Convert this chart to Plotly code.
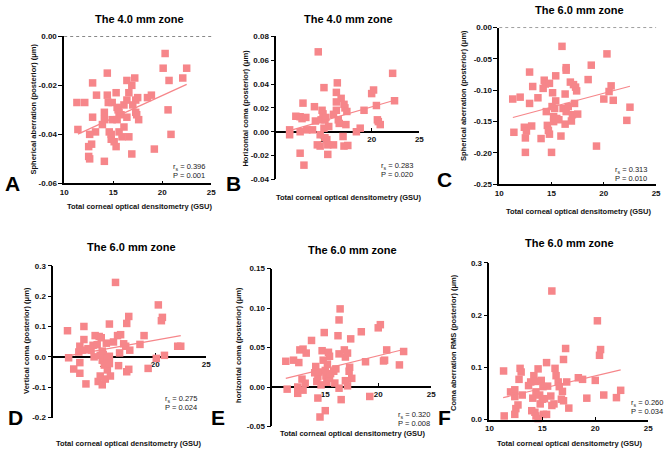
import plotly.graph_objects as go

W, H = 669, 454
COLOR = "#F6868A"
FONT = "Liberation Sans, Arial, sans-serif"

# ---------------- data ----------------
# A: 4.0 mm zone, spherical aberration (posterior)
a_x = [11.3, 12.1, 11.4, 12.9, 12.9, 13.3, 13.2, 12.6, 12.8, 12.5,
       12.5, 12.6, 14.4, 14.4, 14.5, 14.1, 13.9, 14.1, 14.1, 14.6,
       14.8, 14.9, 14.9, 14.8, 15.1, 15.3, 15.3, 15.4, 15.4, 15.5,
       15.6, 15.8, 15.6, 16.1, 16.1, 15.9, 16.4, 16.4, 16.4, 16.6,
       16.6, 16.9, 17.0, 16.9, 17.2, 17.3, 17.3, 17.4, 17.5, 17.6,
       18.5, 18.9, 19.2, 20.1, 20.3, 20.6, 20.7, 20.9, 22.1, 22.5]
a_y = [-0.027, -0.027, -0.038, -0.019, -0.033, -0.024, -0.039, -0.040, -0.044, -0.045,
       -0.049, -0.050, -0.015, -0.024, -0.027, -0.031, -0.036, -0.034, -0.051, -0.039,
       -0.042, -0.027, -0.034, -0.040, -0.043, -0.045, -0.023, -0.029, -0.034, -0.030,
       -0.031, -0.032, -0.039, -0.028, -0.037, -0.041, -0.018, -0.026, -0.033, -0.023,
       -0.041, -0.020, -0.028, -0.048, -0.017, -0.026, -0.031, -0.032, -0.025, -0.034,
       -0.025, -0.024, -0.046, -0.013, -0.007, -0.030, -0.018, -0.040, -0.017, -0.013]
a_fit_x = [11.4, 22.5]
a_fit_y = [-0.0399, -0.0196]

# B: 4.0 mm zone, horizontal coma (posterior)
b_x = [11.4, 11.4, 12.05, 12.5, 12.5, 12.5, 12.7, 12.8, 12.9, 13.1,
       13.2, 13.8, 14.0, 14.1, 14.4, 14.3, 14.6, 14.6, 14.7, 14.8,
       14.9, 15.0, 15.0, 15.1, 15.1, 15.2, 15.3, 15.4, 15.4, 15.5,
       16.0, 16.0, 16.3, 16.3, 16.4, 16.3, 16.5, 16.6, 16.8, 17.0,
       17.1, 17.2, 17.1, 17.3, 17.4, 17.5, 18.4, 18.8, 19.2, 20.0,
       20.2, 20.5, 20.6, 20.7, 20.9, 22.2, 22.4]
b_y = [0.0016, -0.0025, 0.013, -0.018, 0.0126, 0.0, 0.011, 0.024, -0.028, 0.012,
       0.0016, 0.0016, 0.021, 0.009, 0.067, -0.011, -0.012, -0.0025, 0.010, 0.018,
       0.015, 0.037, 0.003, -0.005, 0.010, 0.012, -0.0066, -0.011, -0.019, 0.0044,
       -0.011, 0.0146, 0.025, 0.018, 0.041, 0.033, 0.010, 0.007, 0.028, -0.004,
       0.023, 0.020, -0.012, 0.006, 0.017, -0.0115, 0.0, 0.003, 0.018, 0.032,
       0.035, 0.022, 0.010, 0.0085, 0.006, 0.049, 0.026]
b_fit_x = [11.4, 22.4]
b_fit_y = [0.001, 0.0264]

# C: 6.0 mm zone, spherical aberration (posterior)
c_x = [11.29, 11.4, 12.0, 12.4, 12.5, 12.5, 12.6, 12.9, 12.9, 13.1,
       13.2, 13.7, 14.0, 14.2, 14.3, 14.4, 14.5, 14.6, 14.7, 14.8,
       14.8, 15.0, 15.05, 15.1, 15.2, 15.2, 15.3, 15.4, 15.4, 15.5,
       15.7, 15.9, 16.0, 16.1, 16.3, 16.3, 16.4, 16.4, 16.4, 16.6,
       16.8, 16.9, 17.0, 17.1, 17.2, 17.3, 17.4, 17.5, 18.5, 18.8,
       19.3, 20.0, 20.3, 20.5, 20.7, 20.9, 22.2, 22.5]
c_y = [-0.114, -0.167, -0.111, -0.159, -0.176, -0.199, -0.165, -0.071, -0.121, -0.157,
       -0.094, -0.112, -0.177, -0.097, -0.084, -0.090, -0.134, -0.156, -0.164, -0.089,
       -0.170, -0.199, -0.126, -0.104, -0.142, -0.150, -0.129, -0.077, -0.117, -0.145,
       -0.147, -0.173, -0.030, -0.129, -0.106, -0.154, -0.064, -0.068, -0.134, -0.126,
       -0.087, -0.149, -0.139, -0.091, -0.121, -0.095, -0.101, -0.138, -0.083, -0.060,
       -0.189, -0.114, -0.042, -0.102, -0.093, -0.116, -0.148, -0.127]
c_fit_x = [11.3, 22.5]
c_fit_y = [-0.1435, -0.0936]

# D: 6.0 mm zone, vertical coma (posterior)
d_x = [11.39, 11.5, 12.0, 12.5, 12.6, 12.6, 12.6, 13.0, 13.0, 12.9,
       13.2, 13.4, 13.7, 13.9, 14.0, 14.1, 14.3, 14.4, 14.5, 14.6,
       14.6, 14.7, 14.8, 14.8, 14.8, 14.9, 15.0, 15.1, 15.2, 15.3,
       15.3, 15.5, 15.5, 15.5, 15.6, 15.9, 16.1, 16.3, 16.4, 16.5,
       16.6, 16.9, 17.1, 17.2, 17.2, 17.4, 17.4, 17.5, 18.5, 18.9,
       19.3, 20.1, 20.3, 20.6, 20.7, 20.9, 22.2, 22.5]
d_y = [0.086, -0.003, -0.040, 0.016, 0.035, -0.019, -0.054, 0.100, 0.057, 0.022,
       -0.089, 0.027, 0.022, 0.038, 0.0, 0.070, 0.040, -0.081, 0.067, 0.005,
       -0.063, 0.063, 0.019, -0.011, -0.092, 0.008, -0.027, -0.073, 0.045, -0.005,
       -0.043, 0.108, 0.002, -0.022, -0.063, 0.049, 0.245, 0.070, -0.029, 0.013,
       0.073, 0.043, 0.035, 0.110, -0.049, 0.133, -0.041, 0.022, 0.041, 0.070,
       -0.038, -0.005, 0.171, 0.119, 0.130, 0.005, 0.035, 0.035]
d_fit_x = [11.4, 22.5]
d_fit_y = [0.003, 0.070]

# E: 6.0 mm zone, horizontal coma (posterior)
e_x = [11.27, 11.4, 12.0, 12.4, 12.4, 12.5, 12.6, 12.8, 12.9, 12.9,
       13.1, 13.2, 13.7, 14.0, 14.1, 14.2, 14.3, 14.3, 14.4, 14.5,
       14.6, 14.7, 14.8, 14.9, 15.0, 15.0, 15.06, 15.15, 15.2, 15.3,
       15.4, 15.4, 15.5, 15.8, 15.9, 16.0, 16.2, 16.3, 16.3, 16.3,
       16.4, 16.5, 16.8, 16.9, 16.9, 17.1, 17.1, 17.25, 17.3, 17.4,
       17.5, 18.4, 18.8, 19.2, 20.0, 20.2, 20.5, 20.6, 20.8, 22.0,
       22.4]
e_y = [0.0326, -0.0027, 0.034, 0.0, -0.008, 0.031, 0.047, 0.010, -0.004, 0.048,
       0.0048, 0.043, 0.059, 0.018, 0.026, 0.007, -0.014, 0.013, 0.019, -0.038,
       0.0027, 0.046, 0.034, 0.069, -0.030, 0.021, 0.014, 0.006, 0.029, 0.044,
       0.011, 0.039, 0.017, 0.020, 0.005, 0.023, 0.065, 0.085, 0.042, -0.0015,
       0.099, -0.016, 0.047, 0.038, 0.008, 0.043, 0.0015, 0.020, 0.025, 0.061,
       0.011, 0.070, 0.032, -0.012, 0.075, 0.079, 0.033, 0.034, 0.047, 0.028,
       0.045]
e_fit_x = [11.27, 22.4]
e_fit_y = [0.011, 0.0475]

# F: 6.0 mm zone, coma aberration RMS (posterior)
f_x = [11.34, 11.4, 12.0, 12.4, 12.4, 12.5, 12.4, 12.7, 12.8, 12.9,
       13.0, 13.1, 13.7, 13.9, 14.0, 14.1, 14.2, 14.3, 14.4, 14.4,
       14.4, 14.6, 14.6, 14.75, 14.8, 14.9, 15.0, 15.06, 15.1, 15.2,
       15.4, 15.4, 15.5, 15.8, 15.9, 15.9, 16.1, 16.2, 16.3, 16.5,
       16.6, 16.8, 16.9, 17.0, 17.0, 17.2, 17.3, 17.5, 18.4, 18.8,
       19.2, 20.0, 20.2, 20.4, 20.5, 20.8, 22.0, 22.4]
f_y = [0.093, 0.007, 0.053, 0.057, 0.044, 0.021, 0.010, 0.028, 0.077, 0.098,
       0.091, 0.047, 0.065, 0.072, 0.017, 0.041, 0.084, 0.014, 0.007, 0.073,
       0.053, 0.097, 0.002, 0.047, 0.030, 0.075, 0.039, 0.063, 0.010, 0.040,
       0.109, 0.010, 0.064, 0.045, 0.027, 0.246, 0.030, 0.098, 0.084, 0.072,
       0.063, 0.039, 0.054, 0.115, 0.036, 0.136, 0.072, 0.022, 0.080, 0.077,
       0.041, 0.075, 0.189, 0.123, 0.134, 0.047, 0.042, 0.056]
f_fit_x = [11.3, 22.4]
f_fit_y = [0.042, 0.095]

x_ticks = [10, 15, 20, 25]
x_tick_text = ["10", "15", "20", "25"]
x_ticks_mid = [15, 20, 25]
x_tick_text_mid = ["15", "20", "25"]

a_yticks = [0.0, -0.02, -0.04, -0.06]
a_ytext = ["0.00", "-0.02", "-0.04", "-0.06"]
b_yticks = [0.08, 0.06, 0.04, 0.02, 0.0, -0.02, -0.04]
b_ytext = ["0.08", "0.06", "0.04", "0.02", "0.00", "-0.02", "-0.04"]
c_yticks = [0.0, -0.05, -0.10, -0.15, -0.20, -0.25]
c_ytext = ["0.00", "-0.05", "-0.10", "-0.15", "-0.20", "-0.25"]
d_yticks = [0.3, 0.2, 0.1, 0.0, -0.1, -0.2]
d_ytext = ["0.3", "0.2", "0.1", "0.0", "-0.1", "-0.2"]
e_yticks = [0.15, 0.10, 0.05, 0.0, -0.05]
e_ytext = ["0.15", "0.10", "0.05", "0.00", "-0.05"]
f_yticks = [0.3, 0.2, 0.1, 0.0]
f_ytext = ["0.3", "0.2", "0.1", "0.0"]

titles = ["The 4.0 mm zone", "The 4.0 mm zone", "The 6.0 mm zone",
          "The 6.0 mm zone", "The 6.0 mm zone", "The 6.0 mm zone"]
y_titles = ["Spherical aberration (posterior) (μm)",
            "Horizontal coma (posterior) (μm)",
            "Spherical aberration (posterior) (μm)",
            "Vertical coma (posterior) (μm)",
            "horizontal coma (posterior) (μm)",
            "Coma aberration RMS (posterior) (μm)"]
x_title = "Total corneal optical densitometry (GSU)"
r_values = ["0.396", "0.283", "0.313", "0.275", "0.320", "0.260"]
p_values = ["0.001", "0.020", "0.010", "0.024", "0.008", "0.034"]
letters = ["A", "B", "C", "D", "E", "F"]

# ---------------- layout (pixel geometry) ----------------
panels = [
    dict(x=a_x, y=a_y, fx=a_fit_x, fy=a_fit_y, xd=(61, 210), yd=(183, 33), yr=(-0.06, 0.0),
         yt=a_yticks, ytt=a_ytext, zero=False, dotted=True, xt=x_ticks, xtt=x_tick_text,
         title=(137, 15), xlab=(137, 207), ylab=(30, 107), letter=(9, 183), stats=(169, 166)),
    dict(x=b_x, y=b_y, fx=b_fit_x, fy=b_fit_y, xd=(276, 421), yd=(179, 33), yr=(-0.04, 0.08),
         yt=b_yticks, ytt=b_ytext, zero=True, dotted=False, xt=x_ticks_mid, xtt=x_tick_text_mid,
         title=(349, 15), xlab=(349, 197), ylab=(245, 106), letter=(233, 183), stats=(380, 165)),
    dict(x=c_x, y=c_y, fx=c_fit_x, fy=c_fit_y, xd=(502, 661), yd=(184, 24), yr=(-0.25, 0.0),
         yt=c_yticks, ytt=c_ytext, zero=False, dotted=True, xt=x_ticks, xtt=x_tick_text,
         title=(583, 6), xlab=(582, 212), ylab=(465, 93), letter=(447, 179), stats=(617, 169)),
    dict(x=d_x, y=d_y, fx=d_fit_x, fy=d_fit_y, xd=(50, 205), yd=(422, 267), yr=(-0.2, 0.3),
         yt=d_yticks, ytt=d_ytext, zero=True, dotted=False, xt=x_ticks_mid, xtt=x_tick_text_mid,
         title=(129, 248), xlab=(126, 448), ylab=(22, 343), letter=(12, 422), stats=(161, 403)),
    dict(x=e_x, y=e_y, fx=e_fit_x, fy=e_fit_y, xd=(272, 433), yd=(431, 270), yr=(-0.05, 0.15),
         yt=e_yticks, ytt=e_ytext, zero=True, dotted=False, xt=x_ticks_mid, xtt=x_tick_text_mid,
         title=(353, 251), xlab=(353, 438), ylab=(237, 348), letter=(217, 422), stats=(397, 419)),
    dict(x=f_x, y=f_y, fx=f_fit_x, fy=f_fit_y, xd=(492, 653), yd=(424, 264), yr=(0.0, 0.3),
         yt=f_yticks, ytt=f_ytext, zero=False, dotted=False, xt=x_ticks, xtt=x_tick_text,
         title=(573, 244), xlab=(573, 448), ylab=(455, 345), letter=(446, 422), stats=(634, 407)),
]


def fx_(p):
    return p / W


def fy_(p):
    return 1 - p / H


fig = go.Figure()
annotations = []
shapes = []
layout_axes = {}

for i, pn in enumerate(panels):
    n = "" if i == 0 else str(i + 1)
    xa, ya = "x" + n, "y" + n
    fig.add_trace(go.Scatter(
        x=pn["x"], y=pn["y"], xaxis=xa, yaxis=ya, mode="markers",
        marker=dict(symbol="square", size=7.5, color=COLOR, line=dict(width=0)),
        cliponaxis=False, showlegend=False, hoverinfo="skip"))
    fig.add_trace(go.Scatter(
        x=pn["fx"], y=pn["fy"], xaxis=xa, yaxis=ya, mode="lines",
        line=dict(color=COLOR, width=1.2), showlegend=False, hoverinfo="skip"))

    xdom = [fx_(pn["xd"][0]), fx_(pn["xd"][1])]
    ydom = [fy_(pn["yd"][0]), fy_(pn["yd"][1])]
    common = dict(showgrid=False, zeroline=False, showline=True, linecolor="black",
                  linewidth=1.5, ticklen=4, tickwidth=1.3, tickcolor="black",
                  tickfont=dict(family=FONT, size=8, color="#111", weight="bold"))
    xax = dict(common, domain=xdom, range=[10, 25], tickvals=pn["xt"], ticktext=pn["xtt"],
               ticks="inside", ticklen=3)
    if pn["zero"]:
        r0, r1 = pn["yr"]
        pos = ydom[0] + (0 - r0) / (r1 - r0) * (ydom[1] - ydom[0])
        xax.update(anchor="free", position=pos, layer="below traces")
    else:
        xax.update(anchor=ya)
    yax = dict(common, domain=ydom, range=list(pn["yr"]), tickvals=pn["yt"],
               ticktext=pn["ytt"], anchor=xa, ticks="outside")
    layout_axes["xaxis" + n] = xax
    layout_axes["yaxis" + n] = yax

    if pn["dotted"]:
        shapes.append(dict(type="line", xref=xa + " domain", yref=ya, x0=0, x1=1, y0=0, y1=0,
                           line=dict(color="#444", width=1, dash="dot")))

    annotations.append(dict(text="<b>%s</b>" % titles[i], x=fx_(pn["title"][0]),
                            y=fy_(pn["title"][1]), xref="paper", yref="paper",
                            xanchor="center", yanchor="middle", showarrow=False,
                            font=dict(family=FONT, size=11, color="black")))
    annotations.append(dict(text="<b>%s</b>" % x_title, x=fx_(pn["xlab"][0]),
                            y=fy_(pn["xlab"][1]), xref="paper", yref="paper",
                            xanchor="center", yanchor="middle", showarrow=False,
                            font=dict(family=FONT, size=7.5, color="#111")))
    annotations.append(dict(text="<b>%s</b>" % y_titles[i], x=fx_(pn["ylab"][0]),
                            y=fy_(pn["ylab"][1]), xref="paper", yref="paper",
                            xanchor="center", yanchor="middle", showarrow=False,
                            textangle=-90,
                            font=dict(family=FONT, size=7.5, color="#111")))
    annotations.append(dict(text="<b>%s</b>" % letters[i], x=fx_(pn["letter"][0]),
                            y=fy_(pn["letter"][1]), xref="paper", yref="paper",
                            xanchor="center", yanchor="middle", showarrow=False,
                            font=dict(family=FONT, size=21, color="black")))
    sx, sy = pn["stats"]
    annotations.append(dict(text="r<sub>s</sub> = %s" % r_values[i], x=fx_(sx), y=fy_(sy),
                            xref="paper", yref="paper", xanchor="left", yanchor="middle",
                            showarrow=False, font=dict(family=FONT, size=7.5, color="#222")))
    annotations.append(dict(text="P = %s" % p_values[i], x=fx_(sx), y=fy_(sy + 9),
                            xref="paper", yref="paper", xanchor="left", yanchor="middle",
                            showarrow=False, font=dict(family=FONT, size=7.5, color="#222")))

fig.update_layout(
    width=W, height=H, margin=dict(l=0, r=0, t=0, b=0),
    paper_bgcolor="white", plot_bgcolor="rgba(0,0,0,0)",
    showlegend=False, annotations=annotations, shapes=shapes,
    font=dict(family=FONT),
    **layout_axes)

fig.write_html("out.html")
